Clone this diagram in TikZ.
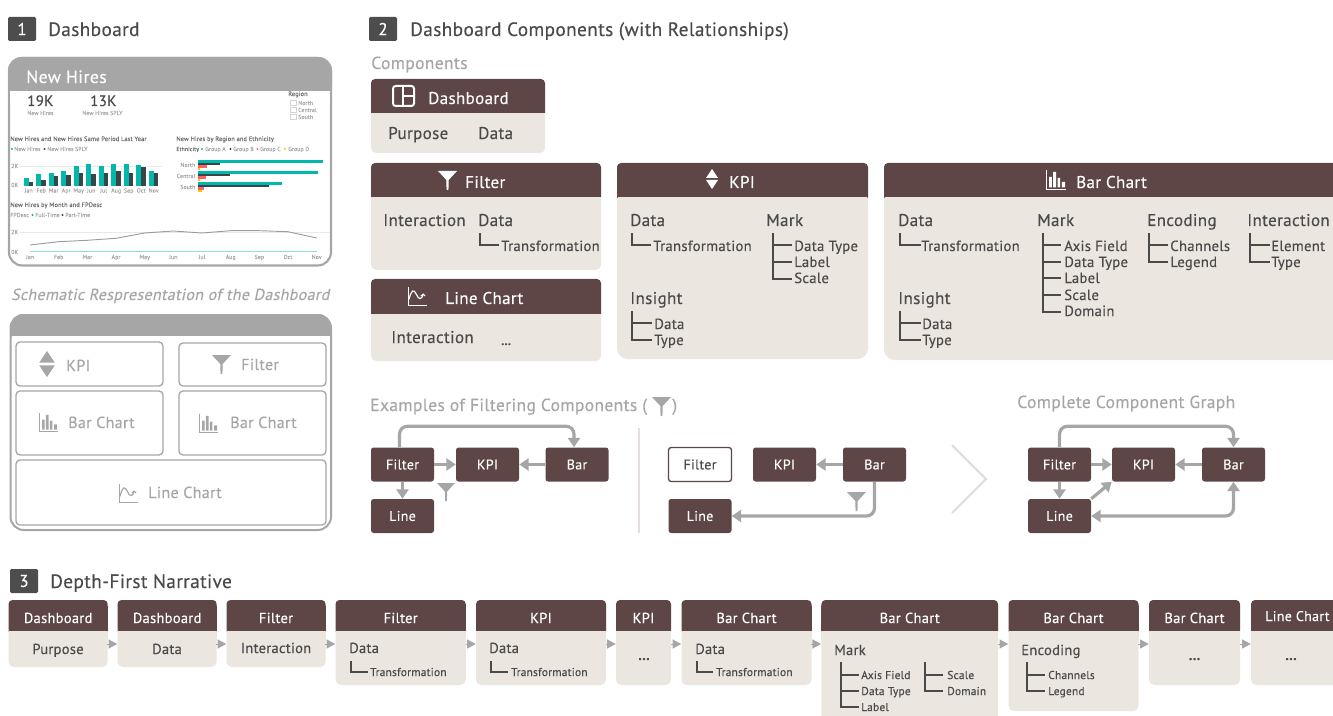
\documentclass[tikz,border=0pt]{standalone}
\usepackage{fontspec}
\setmainfont{PT Sans}[LetterSpace=2,FakeBold=0.25]
\newfontfamily\slantfont{PT Sans}[LetterSpace=2,FakeBold=0.25,FakeSlant=0.2]
\usetikzlibrary{arrows.meta,calc}
\definecolor{hdrc}{HTML}{5D4645}
\definecolor{bodyc}{HTML}{EBE6E0}
\definecolor{grayc}{HTML}{A6A6A6}
\definecolor{darkt}{HTML}{4A4A4A}
\definecolor{badge}{HTML}{4D4D4D}
\definecolor{teal}{HTML}{01B8AA}
\definecolor{pbdark}{HTML}{374649}
\definecolor{pbred}{HTML}{FD625E}
\definecolor{pbyel}{HTML}{F2C80F}
\definecolor{sepc}{HTML}{E3DEDC}
\newcommand\fpx[1]{\fontsize{\the\dimexpr #1pt*3/4\relax}{\the\dimexpr #1pt\relax}\selectfont}
\newcounter{tn}
\def\tyoff{1}
\newcommand\tl[4]{\stepcounter{tn}\node[anchor=base west,inner sep=0,#1] (t\arabic{tn}) at (#2,{#3+\tyoff}) {#4};}
\newcommand\tc[4]{\stepcounter{tn}\node[anchor=base,inner sep=0,#1] (t\arabic{tn}) at (#2,{#3+\tyoff}) {#4};}
\newcommand\tr[4]{\stepcounter{tn}\node[anchor=base east,inner sep=0,#1] (t\arabic{tn}) at (#2,{#3+\tyoff}) {#4};}
% card: [radius]{x1}{x2}{y1}{ymid}{y2}
\newcommand\card[6][4pt]{%
 \fill[hdrc,rounded corners=3pt] (#2,#4) rectangle (#3,#5+4);
 \fill[hdrc] (#2,#4+6) rectangle (#3,#5);
 \fill[bodyc,rounded corners=#1] (#2,#5-6) rectangle (#3,#6);
 \fill[bodyc] (#2,#5+1) rectangle (#3,#5+10);
 \fill[hdrc] (#2,#5-8) rectangle (#3,#5);
}
% icons in a 20x20 box
\newcommand\funnel[4]{\fill[#4,shift={(#1,#2)},scale=#3/20] (0,0)--(20,0)--(11.2,9.5)--(11,20)--(9,20)--(8.8,9.5)--cycle;}
\newcommand\kpiicon[4]{\fill[#4,shift={(#1,#2)},scale=#3/20] (10,0)--(16,9)--(4,9)--cycle (4,11)--(16,11)--(10,20)--cycle;}
\newcommand\baricon[4]{\begin{scope}[shift={(#1,#2)},scale=#3/20]
 \draw[#4,line width=.8pt] (0.5,0)--(0.5,19.5)--(20,19.5);
 \fill[#4] (3.2,7) rectangle (5.8,17.5) (7.2,2) rectangle (10.2,17.5) (11.5,8) rectangle (14,17.5) (15.8,12) rectangle (19,17.5);
\end{scope}}
\newcommand\lineicon[4]{\begin{scope}[shift={(#1,#2)},scale=#3/20]
 \draw[#4,line width=.8pt] (0.5,0)--(0.5,19.5)--(20,19.5);
 \draw[#4,line width=.9pt] (1,13) .. controls (4,2) and (6,2) .. (9,8) .. controls (11,13) and (14,14) .. (16,8);
 \draw[#4,line width=.8pt] (13.5,9.5)--(16,7.5)--(18,9.5);
\end{scope}}
\newcommand\treeb[4]{% x ytop x2 {list of y}
 \foreach \yy in {#4} {\draw[treeln] (#1,\yy)--(#3,\yy);\xdef\ylastg{\yy}}
 \draw[treeln] (#1,#2)--(#1,\ylastg);}
\tikzset{
 sect/.style={font=\fpx{19.3},text=darkt},
 sub/.style={font=\fpx{17.5},text=grayc},
 big/.style={font=\fpx{17},text=darkt},
 hdrw/.style={font=\fpx{17},text=white},
 item/.style={font=\fpx{14.7},text=darkt},
 hdrn/.style={font=\fpx{14.5},text=white},
 bodyn/.style={font=\fpx{14.5},text=darkt},
 small/.style={font=\fpx{11.4},text=darkt},
 schem/.style={font=\fpx{16},text=grayc},
 tiny/.style={font=\fpx{6.4},text=darkt!80},
 tinyg/.style={font=\fpx{5.8},text=grayc},
 treeln/.style={draw=darkt,line width=1.6pt,line cap=rect,line join=round},
 gnode/.style={fill=hdrc,text=white,font=\fpx{14},rounded corners=2pt,minimum height=34*.75pt,minimum width=63*.75pt,inner sep=0},
 gwhite/.style={gnode,fill=white,draw=hdrc,text=darkt,line width=1pt},
 conn/.style={draw=grayc,line width=2.4pt,rounded corners=6pt,-{Triangle[length=7pt,width=9pt]}},
 connb/.style={draw=grayc,line width=2.4pt,rounded corners=6pt,{Triangle[length=7pt,width=9pt]}-{Triangle[length=7pt,width=9pt]}},
 seq/.style={draw=grayc,line width=0pt,-{Triangle[length=6.5pt,width=7pt]},shorten >=0pt},
 inbox/.style={draw=grayc,line width=1pt,rounded corners=3pt,inner sep=0},
 badgen/.style={fill=badge,text=white,font=\fpx{17},minimum width=28*.75pt,minimum height=24*.75pt,inner sep=0,rounded corners=1pt},
}
\begin{document}
\begin{tikzpicture}[x=0.75pt,y=-0.75pt]
\path[use as bounding box] (0,0) rectangle (1333,716);
\clip (0,0) rectangle (1333,716);
% ---------- section badges
\node[badgen] (b1) at (22,29) {1};
\tl{sect}{48}{35}{Dashboard}
\node[badgen] (b2) at (383,29) {2};
\tl{sect}{410}{35}{Dashboard Components (with Relationships)}
\node[badgen,minimum height=24*.75pt] (b3) at (24,581) {3};
\tl{sect}{50}{587}{Depth-First Narrative}
% ---------- dashboard screenshot
\draw[grayc,line width=1.6pt,rounded corners=10pt] (9,58) rectangle (331,265.5);
\fill[grayc,rounded corners=10pt] (8,57) rectangle (332,100);
\fill[white] (9.5,91) rectangle (330.2,104);
\tl{font=\fpx{17.8},text=white}{26}{82}{New Hires}
\tl{font=\fpx{15},text=darkt}{27}{105}{19K}
\tl{font=\fpx{15},text=darkt}{90}{105}{13K}
\tl{tinyg}{27}{114}{New Hires}
\tl{tinyg}{82}{114}{New Hires SPLY}
\tl{tiny}{288}{95}{Region}
\foreach \yy/\nm in {103/North,110/Central,117/South}{
 \draw[grayc!50,line width=.3pt] (290,\yy-2.5) rectangle (296,\yy+2.5);
 \tl{tinyg}{298}{\yy+1}{\nm}
}
\tl{tiny}{10}{140}{New Hires and New Hires Same Period Last Year}
\tl{tinyg}{14}{150}{New Hires}
\fill[teal] (12,149) circle (1.2);
\fill[pbdark] (44.5,149) circle (1.2);
\tl{tinyg}{47}{150}{New Hires SPLY}
\tl{tinyg}{11}{167}{2K}
\tl{tinyg}{11}{186}{0K}
\draw[grayc!25,line width=.3pt] (20,166)--(162,166);
\foreach \a/\b/\m [count=\i from 0] in {384/395/Jan,373/389/Feb,370/378/Mar,363/375/Apr,348/370/May,341/372/Jun,348/368/Jul,341/364/Aug,341/369/Sep,344/351/Oct,363/368/Nov}{
 \pgfmathsetmacro\xa{(71+37.5*\i)/3}
 \fill[teal] (\xa,{\a/3+50}) rectangle (\xa+5,185.7);
 \fill[pbdark] (\xa+5,{\b/3+50}) rectangle (\xa+9.7,185.7);
 \tc{tinyg}{\xa+5}{191.5}{\m}
}
\tl{tiny}{176}{140}{New Hires by Region and Ethnicity}
\tl{font=\fpx{5.8},text=darkt!80}{176}{150}{Ethnicity}
\fill[teal] (202,149) circle (1.2); \tl{tinyg}{205}{150}{Group A}
\fill[pbdark] (230.5,149) circle (1.2); \tl{tinyg}{233}{150}{Group B}
\fill[pbred] (257.5,149) circle (1.2); \tl{tinyg}{260}{150}{Group C}
\fill[pbyel] (285,149) circle (1.2); \tl{tinyg}{288}{150}{Group D}
\foreach \yt/\na/\nb/\nc/\nd/\lb in {160/322.7/220/207/200/North,171/317.7/230/205.7/200/Central,182/282/268.7/204/202/South}{
 \fill[teal] (198,\yt) rectangle (\na,\yt+2.8);
 \fill[pbdark] (198,\yt+2.8) rectangle (\nb,\yt+5.2);
 \fill[pbred] (198,\yt+5.2) rectangle (\nc,\yt+7.8);
 \fill[pbyel] (198,\yt+7.8) rectangle (\nd,\yt+10.2);
 \tr{tinyg}{195.5}{\yt+6}{\lb}
}
\tl{tiny}{10}{206}{New Hires by Month and FPDesc}
\tl{tinyg}{10}{216}{FPDesc}
\fill[teal] (32.5,215) circle (1.2); \tl{tinyg}{35}{216}{Full-Time}
\fill[pbdark] (62.5,215) circle (1.2); \tl{tinyg}{65}{216}{Part-Time}
\tl{tinyg}{11}{233}{2K}
\tl{tinyg}{11}{253}{0K}
\draw[grayc!25,line width=.3pt] (20,232)--(330,232);
\draw[grayc!90!pbdark,line width=.7pt] (30,245)--(58.7,241.7)--(87.3,240.3)--(116,238.3)--(144.7,233)--(173.3,231)--(202,233)--(230.7,230.7)--(259.3,230.7)--(288,231.7)--(316.7,238);
\draw[teal!45,line width=.9pt] (30,251.3)--(316.7,251.3);
\foreach \m [count=\i from 0] in {Jan,Feb,Mar,Apr,May,Jun,Jul,Aug,Sep,Oct,Nov}{
 \tc{tinyg}{30+28.67*\i}{258}{\m}
}
% ---------- schematic
\tl{schem,font=\fpx{16}\slantfont}{11}{299}{Schematic Respresentation of the Dashboard}
\draw[grayc,line width=1.5pt,rounded corners=10pt] (10.5,315) rectangle (331,530);
\fill[grayc,rounded corners=10pt] (10,314) rectangle (331.5,345);
\fill[white] (11.5,336) rectangle (330,346);
\node[inbox,minimum width=147*.75pt,minimum height=44*.75pt] (sk) at (89.5,364) {};
\node[inbox,minimum width=147*.75pt,minimum height=43*.75pt] (sf) at (252.5,364.5) {};
\node[inbox,minimum width=147*.75pt,minimum height=64*.75pt] (sb1) at (89.5,423) {};
\node[inbox,minimum width=147*.75pt,minimum height=64*.75pt] (sb2) at (252.5,423) {};
\node[inbox,minimum width=310*.75pt,minimum height=65*.75pt] (sl) at (171,492.5) {};
\kpiicon{34}{351}{26}{grayc}
\tl{schem}{66}{370}{KPI}
\funnel{212}{355}{19}{grayc}
\tl{schem}{241}{369}{Filter}
\baricon{39}{413}{19}{grayc}
\tl{schem}{68}{427}{Bar Chart}
\baricon{199}{414}{19}{grayc}
\tl{schem}{230}{427}{Bar Chart}
\lineicon{119}{484}{19}{grayc}
\tl{schem}{148}{497}{Line Chart}
% ---------- components
\def\tyoff{0}
\tl{sub}{371}{69}{Components}
\card{371}{545}{79}{113}{153}
\draw[white,line width=1.5pt,rounded corners=2pt] (393,86) rectangle (414,106);
\draw[white,line width=1.5pt] (403,86)--(403,106) (403,96)--(414,96);
\tl{hdrw}{428}{104}{Dashboard}
\tl{big}{388}{139}{Purpose}
\tl{big}{478}{139}{Data}
% filter
\card{371}{601}{163}{197}{270}
\funnel{438}{171}{19}{white}
\tl{hdrw}{465}{188}{Filter}
\tl{big}{383}{226}{Interaction}
\tl{big}{478}{226}{Data}
\treeb{480}{234}{498}{245}
\tl{item}{501}{251}{Transformation}
% line chart
\card{371}{601}{279}{314}{361}
\lineicon{408}{287}{19}{white}
\tl{hdrw}{445}{304}{Line Chart}
\tl{big}{391}{343}{Interaction}
\tl{font=\fpx{12}\bfseries,text=darkt}{501}{345}{...}
% KPI
\card[8pt]{617}{868}{163}{197}{359}
\kpiicon{702}{169}{20}{white}
\tl{hdrw}{729}{188}{KPI}
\tl{big}{630}{226}{Data}
\treeb{632}{234}{650}{245}
\tl{item}{653}{251}{Transformation}
\tl{big}{766}{226}{Mark}
\treeb{773}{234}{791}{245,262,279}
\tl{item}{794}{251}{Data Type}
\tl{item}{794}{267}{Label}
\tl{item}{794}{283}{Scale}
\tl{big}{630}{304}{Insight}
\treeb{632}{312}{651}{323,340}
\tl{item}{654}{329}{Data}
\tl{item}{654}{345}{Type}
% Bar chart
\card[8pt]{884}{1345}{163}{197}{360}
\baricon{1046}{170}{20}{white}
\tl{hdrw}{1076}{188}{Bar Chart}
\tl{big}{898}{226}{Data}
\treeb{900}{234}{920}{245}
\tl{item}{921}{251}{Transformation}
\tl{big}{1037}{226}{Mark}
\treeb{1043}{234}{1060}{245,262,278,295,312}
\tl{item}{1064}{251}{Axis Field}
\tl{item}{1064}{267}{Data Type}
\tl{item}{1064}{283}{Label}
\tl{item}{1064}{300}{Scale}
\tl{item}{1064}{316}{Domain}
\tl{big}{1147}{226}{Encoding}
\treeb{1149}{234}{1167}{245,262}
\tl{item}{1170}{251}{Channels}
\tl{item}{1170}{267}{Legend}
\tl{big}{1247}{226}{Interaction}
\treeb{1250}{234}{1269}{245,262}
\tl{item}{1271}{251}{Element}
\tl{item}{1271}{267}{Type}
\tl{big}{898}{304}{Insight}
\treeb{900}{312}{920}{323,340}
\tl{item}{922}{329}{Data}
\tl{item}{922}{345}{Type}
% ---------- examples
\tl{sub}{370}{411}{Examples of Filtering Components (}
\funnel{652}{397}{19}{grayc}
\tl{sub}{672}{411}{)}
\tl{sub}{1017}{408}{Complete Component Graph}
\node[gnode] (f1) at (402.5,464.5) {Filter};
\node[gnode] (k1) at (487.5,464.5) {KPI};
\node[gnode] (b11) at (577,464.5) {Bar};
\node[gnode] (l1) at (402.5,516) {Line};
\draw[conn] ($(f1.north)+(-3,0)$) -- ++(0,-21) -- ($(b11.north)+(-3,-21)$) -- ($(b11.north)+(-3,0)$);
\draw[conn] (f1.east) -- (k1.west);
\draw[conn] (b11.west) -- (k1.east);
\draw[conn] (f1.south) -- (l1.north);
\funnel{437}{483}{18}{grayc}
\draw[sepc,line width=1.5pt] (639,428)--(639,533);
\node[gwhite] (f2) at (700,464.5) {Filter};
\node[gnode] (k2) at (784.5,464.5) {KPI};
\node[gnode] (b22) at (874.5,464.5) {Bar};
\node[gnode] (l2) at (700,516) {Line};
\draw[conn] (b22.west) -- (k2.east);
\draw[conn] (b22.south) -- (b22.south |- l2.east) -- (l2.east);
\funnel{847}{492}{19}{grayc}
\draw[sepc,line width=1.8pt] (952,445)--(986,479)--(952,513);
\node[gnode] (f3) at (1059.5,464.5) {Filter};
\node[gnode] (k3) at (1143.5,464.5) {KPI};
\node[gnode] (b33) at (1233.5,464.5) {Bar};
\node[gnode] (l3) at (1059.5,516) {Line};
\draw[conn] (f3.north) -- ++(0,-21) -- ($(b33.north)+(0,-21)$) -- (b33.north);
\draw[conn] (f3.east) -- (k3.west);
\draw[conn] (b33.west) -- (k3.east);
\draw[conn] (f3.south) -- (l3.north);
\draw[conn] (l3.north east) -- (k3.south west);
\draw[connb] (l3.east) -- (b33.south |- l3.east) -- (b33.south);
% ---------- narrative
\newcommand\ncard[7]{\card{#2}{#3}{600}{631}{#4}
 \node[inner sep=0,minimum width={(#3-#2)*.75pt},minimum height=31*.75pt] (#1) at ({(#2+#3)/2},615.5) {};
 \tc{#7}{{(#2+#3)/2}}{623}{#5}
 #6}
\ncard{n1}{8.5}{107.7}{667}{Dashboard}{\tc{bodyn}{58}{654}{Purpose}}{hdrn}
\ncard{n2}{117.5}{216.7}{667}{Dashboard}{\tc{bodyn}{167}{654}{Data}}{hdrn}
\ncard{n3}{226.5}{325.6}{667}{Filter}{\tc{bodyn}{276}{653}{Interaction}}{hdrn}
\ncard{n4}{335.5}{465.8}{685}{Filter}{\tl{bodyn}{349}{653}{Data}\treeb{351}{662}{367}{672}\tl{small}{370}{676}{Transformation}}{hdrn}
\ncard{n5}{476}{606}{685}{KPI}{\tl{bodyn}{489}{653}{Data}\treeb{491}{662}{507}{672}\tl{small}{511}{676}{Transformation}}{hdrn}
\ncard{n6}{616}{671}{685}{KPI}{\tc{font=\fpx{14}\bfseries,text=darkt}{644}{660}{...}}{hdrn}
\ncard{n7}{681.5}{811.5}{685}{Bar Chart}{\tl{bodyn}{695}{654}{Data}\treeb{697}{662}{712}{672}\tl{small}{716}{676}{Transformation}}{hdrn}
\ncard{n8}{821.4}{998}{725}{Bar Chart}{\tl{bodyn}{834}{655}{Mark}\treeb{841}{663}{858}{675,691,707}\tl{small}{861}{679}{Axis Field}\tl{small}{861}{695}{Data Type}\tl{small}{861}{711}{Label}\treeb{925}{663}{942}{675,691}\tl{small}{947}{679}{Scale}\tl{small}{947}{695}{Domain}}{hdrn}
\ncard{n9}{1008.5}{1138.5}{711}{Bar Chart}{\tl{bodyn}{1021}{655}{Encoding}\treeb{1027}{663}{1044}{675,691}\tl{small}{1048}{679}{Channels}\tl{small}{1048}{695}{Legend}}{hdrn}
\ncard{n10}{1149}{1240}{685}{Bar Chart}{\tc{font=\fpx{14}\bfseries,text=darkt}{1194.5}{660}{...}}{hdrn}
\ncard{n11}{1251}{1342}{685}{}{\tc{font=\fpx{14}\bfseries,text=darkt}{1291}{660}{...}}{hdrn}
\tl{font=\fpx{14},text=white}{1265}{621}{Line Chart}
\foreach \p/\q in {n1/n2,n2/n3,n3/n4,n4/n5,n5/n6,n6/n7,n7/n8,n8/n9,n9/n10,n10/n11}{
 \draw[seq] ($(\p.east)+(0,28.5)$) -- ($(\q.west)+(0,28.5)$);
}
\end{tikzpicture}
\end{document}
